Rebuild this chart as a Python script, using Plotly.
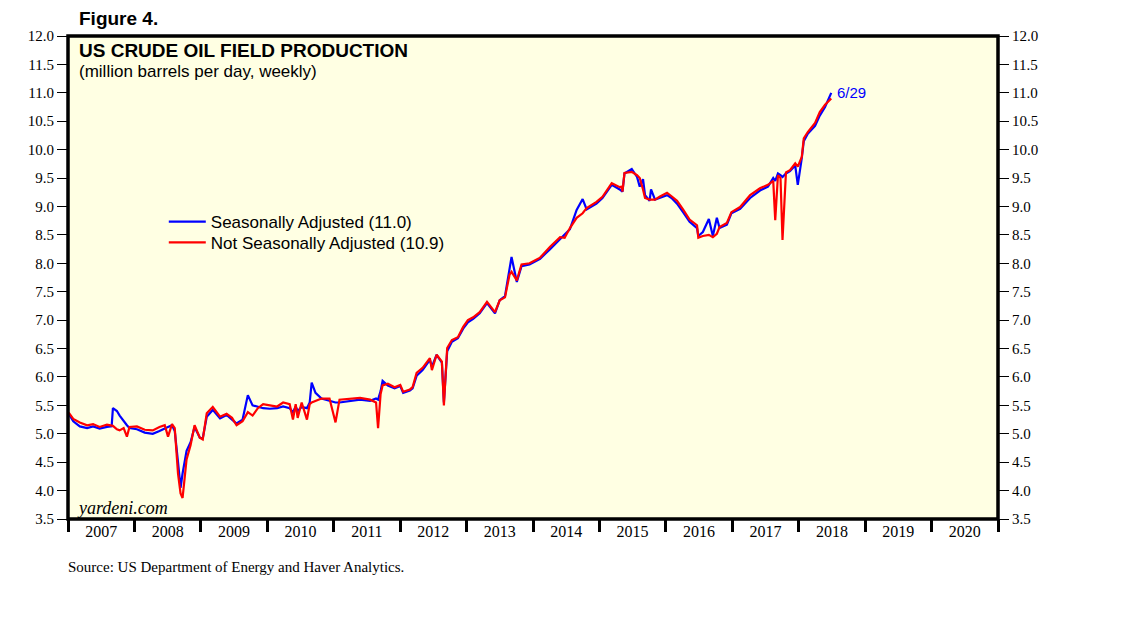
import plotly.graph_objects as go

# Weekly US crude oil field production (million barrels per day)
dates = [
    "2007-01-05", "2007-01-30", "2007-03-07", "2007-04-16", "2007-05-19", "2007-06-24",
    "2007-08-03", "2007-08-29", "2007-09-05", "2007-09-27", "2007-10-12", "2007-11-03",
    "2007-11-21", "2007-12-05", "2008-01-15", "2008-02-27", "2008-04-11", "2008-05-18",
    "2008-06-16", "2008-07-04", "2008-07-26", "2008-08-10", "2008-08-28", "2008-09-11",
    "2008-09-22", "2008-10-14", "2008-11-05", "2008-11-27", "2008-12-26", "2009-01-11",
    "2009-02-02", "2009-03-07", "2009-04-16", "2009-05-22", "2009-06-21", "2009-07-16",
    "2009-08-18", "2009-09-16", "2009-10-12", "2009-11-10", "2009-12-09", "2010-01-15",
    "2010-02-24", "2010-03-29", "2010-05-04", "2010-05-22", "2010-06-06", "2010-06-17",
    "2010-07-09", "2010-08-07", "2010-08-22", "2010-09-02", "2010-09-23", "2010-10-26",
    "2010-12-09", "2011-01-11", "2011-02-02", "2011-04-01", "2011-05-26", "2011-07-20",
    "2011-08-22", "2011-09-02", "2011-09-16", "2011-09-27", "2011-10-26", "2011-12-02",
    "2012-01-02", "2012-01-18", "2012-02-24", "2012-03-10", "2012-04-01", "2012-05-04",
    "2012-06-13", "2012-06-24", "2012-07-20", "2012-08-18", "2012-08-29", "2012-09-16",
    "2012-10-12", "2012-11-14", "2012-12-13", "2013-01-08", "2013-02-06", "2013-03-14",
    "2013-04-23", "2013-06-06", "2013-07-02", "2013-07-31", "2013-08-25", "2013-09-05",
    "2013-10-04", "2013-10-30", "2013-12-13", "2014-02-09", "2014-04-05", "2014-05-30",
    "2014-06-24", "2014-07-23", "2014-08-29", "2014-10-01", "2014-10-23", "2014-12-16",
    "2015-01-18", "2015-03-10", "2015-04-23", "2015-05-04", "2015-05-08", "2015-05-19",
    "2015-06-28", "2015-07-27", "2015-08-11", "2015-08-29", "2015-09-09", "2015-10-04",
    "2015-10-12", "2015-11-03", "2015-11-28", "2016-01-08", "2016-02-02", "2016-03-03",
    "2016-04-05", "2016-05-11", "2016-06-21", "2016-06-28", "2016-07-23", "2016-08-25",
    "2016-09-16", "2016-10-08", "2016-10-23", "2016-12-02", "2016-12-27", "2017-02-13",
    "2017-04-09", "2017-06-02", "2017-07-16", "2017-08-14", "2017-08-25", "2017-09-09",
    "2017-09-23", "2017-10-04", "2017-10-23", "2017-11-14", "2017-12-13", "2017-12-27",
    "2018-01-18", "2018-01-29", "2018-02-20", "2018-04-01", "2018-04-27", "2018-05-26",
    "2018-06-29",
]

seasonally_adjusted = [
    5.35, 5.22, 5.13, 5.10, 5.13, 5.09,
    5.12, 5.13, 5.45, 5.40, 5.32, 5.22,
    5.15, 5.10, 5.08, 5.02, 5.00, 5.05,
    5.10, 5.12, 5.15, 5.05, 4.50, 4.05,
    4.30, 4.70, 4.85, 5.12, 4.93, 4.92,
    5.30, 5.42, 5.27, 5.33, 5.25, 5.18,
    5.25, 5.68, 5.50, 5.48, 5.45, 5.44,
    5.45, 5.48, 5.45, 5.38, 5.48, 5.40,
    5.47, 5.45, 5.55, 5.90, 5.72, 5.62,
    5.58, 5.55, 5.55, 5.58, 5.60, 5.58,
    5.62, 5.60, 5.75, 5.93, 5.85, 5.80,
    5.84, 5.72, 5.76, 5.80, 6.02, 6.12,
    6.30, 6.18, 6.39, 6.25, 5.55, 6.45,
    6.62, 6.68, 6.85, 6.96, 7.02, 7.12,
    7.30, 7.12, 7.35, 7.42, 7.85, 8.11,
    7.67, 7.95, 7.98, 8.08, 8.25, 8.42,
    8.50, 8.60, 8.94, 9.13, 8.95, 9.05,
    9.15, 9.38, 9.30, 9.28, 9.26, 9.58,
    9.66, 9.52, 9.35, 9.48, 9.20, 9.10,
    9.30, 9.12, 9.15, 9.20, 9.15, 9.05,
    8.90, 8.73, 8.62, 8.48, 8.55, 8.78,
    8.48, 8.80, 8.62, 8.68, 8.88, 8.96,
    9.15, 9.28, 9.35, 9.50, 9.45, 9.58,
    9.55, 9.52, 9.58, 9.62, 9.72, 9.38,
    9.85, 10.15, 10.28, 10.42, 10.60, 10.75,
    11.00,
]

not_seasonally_adjusted = [
    5.37, 5.26, 5.20, 5.15, 5.17, 5.12,
    5.16, 5.15, 5.14, 5.08, 5.06, 5.10,
    4.95, 5.12, 5.13, 5.07, 5.06, 5.12,
    5.15, 4.95, 5.17, 5.10, 4.30, 3.95,
    3.87, 4.55, 4.80, 5.15, 4.93, 4.90,
    5.36, 5.47, 5.30, 5.35, 5.28, 5.15,
    5.22, 5.38, 5.32, 5.45, 5.52, 5.50,
    5.48, 5.55, 5.52, 5.25, 5.52, 5.28,
    5.55, 5.25, 5.52, 5.55, 5.58, 5.62,
    5.62, 5.20, 5.60, 5.62, 5.63, 5.60,
    5.55, 5.10, 5.70, 5.85, 5.88, 5.82,
    5.86, 5.74, 5.78, 5.82, 6.07, 6.16,
    6.33, 6.12, 6.39, 6.27, 5.50, 6.51,
    6.65, 6.70, 6.88, 7.00, 7.05, 7.14,
    7.32, 7.14, 7.35, 7.40, 7.80, 7.85,
    7.70, 7.98, 8.00, 8.10, 8.29, 8.46,
    8.45, 8.62, 8.80, 8.88, 8.97, 9.08,
    9.17, 9.41, 9.34, 9.35, 9.26, 9.59,
    9.61, 9.55, 9.50, 9.30, 9.15, 9.12,
    9.12, 9.12, 9.17, 9.24, 9.18, 9.10,
    8.95, 8.77, 8.67, 8.45, 8.48, 8.50,
    8.46, 8.52, 8.64, 8.71, 8.90, 8.99,
    9.20, 9.32, 9.38, 9.45, 8.76, 9.55,
    9.50, 8.41, 9.60, 9.64, 9.76, 9.70,
    9.87, 10.20, 10.31, 10.47, 10.66, 10.79,
    10.90,
]

y_ticks = [3.5, 4.0, 4.5, 5.0, 5.5, 6.0, 6.5, 7.0, 7.5, 8.0, 8.5, 9.0, 9.5,
           10.0, 10.5, 11.0, 11.5, 12.0]
x_start, x_end = "2007-01-01", "2021-01-01"

sa_name = "Seasonally Adjusted (11.0)"
nsa_name = "Not Seasonally Adjusted (10.9)"
last_label = "6/29"

SERIF = "Liberation Serif"
SANS = "Liberation Sans"

fig = go.Figure()
fig.add_trace(go.Scatter(x=dates, y=seasonally_adjusted, mode="lines", name=sa_name,
                         legend="legend", line=dict(color="#0000FF", width=2.2)))
fig.add_trace(go.Scatter(x=dates, y=not_seasonally_adjusted, mode="lines", name=nsa_name,
                         legend="legend2", line=dict(color="#FF0000", width=2.2)))
# invisible trace to anchor the right-hand axis
fig.add_trace(go.Scatter(x=dates, y=seasonally_adjusted, yaxis="y2", mode="lines",
                         opacity=0, showlegend=False, hoverinfo="skip",
                         line=dict(width=0)))

yaxis_common = dict(range=[3.5, 12.0], tickvals=y_ticks, tickformat=".1f",
                    ticks="outside", ticklen=10, tickwidth=1, tickcolor="black",
                    showgrid=False, zeroline=False, showline=False,
                    tickfont=dict(family=SERIF, size=15, color="black"))

legend_common = dict(xanchor="left", yanchor="top", bgcolor="rgba(0,0,0,0)",
                     borderwidth=0, itemwidth=37,
                     font=dict(family=SANS, size=17, color="black"))

fig.update_layout(
    width=1138, height=621,
    margin=dict(l=60, r=148, t=28, b=110),
    paper_bgcolor="white",
    plot_bgcolor="#FFFFE3",
    showlegend=True,
    legend=dict(x=0.103, y=0.652, **legend_common),
    legend2=dict(x=0.103, y=0.609, **legend_common),
    xaxis=dict(type="date", range=[x_start, x_end], tick0="2007-01-01", dtick="M12",
               tickformat="%Y", ticklabelmode="period", ticks="outside",
               ticklen=12, tickwidth=3, tickcolor="black", showgrid=False,
               zeroline=False, showline=False, ticklabelstandoff=-14,
               tickfont=dict(family=SERIF, size=16, color="black")),
    yaxis=dict(**yaxis_common, side="left"),
    yaxis2=dict(**yaxis_common, side="right", overlaying="y", anchor="x"),
    shapes=[dict(type="rect", xref="paper", yref="paper", x0=0, x1=1, y0=0, y1=1,
                 line=dict(color="black", width=3.5), fillcolor="rgba(0,0,0,0)",
                 layer="above")],
    annotations=[
        dict(text="<b>Figure 4.</b>", xref="paper", yref="paper", x=0.0097, y=1.037,
             xanchor="left", yanchor="middle", showarrow=False,
             font=dict(family=SANS, size=19, color="black")),
        dict(text="<b>US CRUDE OIL FIELD PRODUCTION</b>", xref="paper", yref="paper",
             x=0.0097, y=0.969, xanchor="left", yanchor="middle", showarrow=False,
             font=dict(family=SANS, size=19, color="black")),
        dict(text="(million barrels per day, weekly)", xref="paper", yref="paper",
             x=0.0097, y=0.927, xanchor="left", yanchor="middle", showarrow=False,
             font=dict(family=SANS, size=17, color="black")),
        dict(text="<i>yardeni.com</i>", xref="paper", yref="paper", x=0.007, y=0.023,
             xanchor="left", yanchor="middle", showarrow=False,
             font=dict(family=SERIF, size=18, color="black")),
        dict(text="Source: US Department of Energy and Haver Analytics.", xref="paper",
             yref="paper", x=-0.002, y=-0.0994, xanchor="left", yanchor="middle",
             showarrow=False, font=dict(family=SERIF, size=15, color="black")),
        dict(text=last_label, x=dates[-1], y=seasonally_adjusted[-1], xref="x", yref="y",
             xanchor="left", yanchor="middle", xshift=4, showarrow=False,
             font=dict(family=SANS, size=15, color="#0000FF")),
    ],
)

fig.write_html("out.html")
